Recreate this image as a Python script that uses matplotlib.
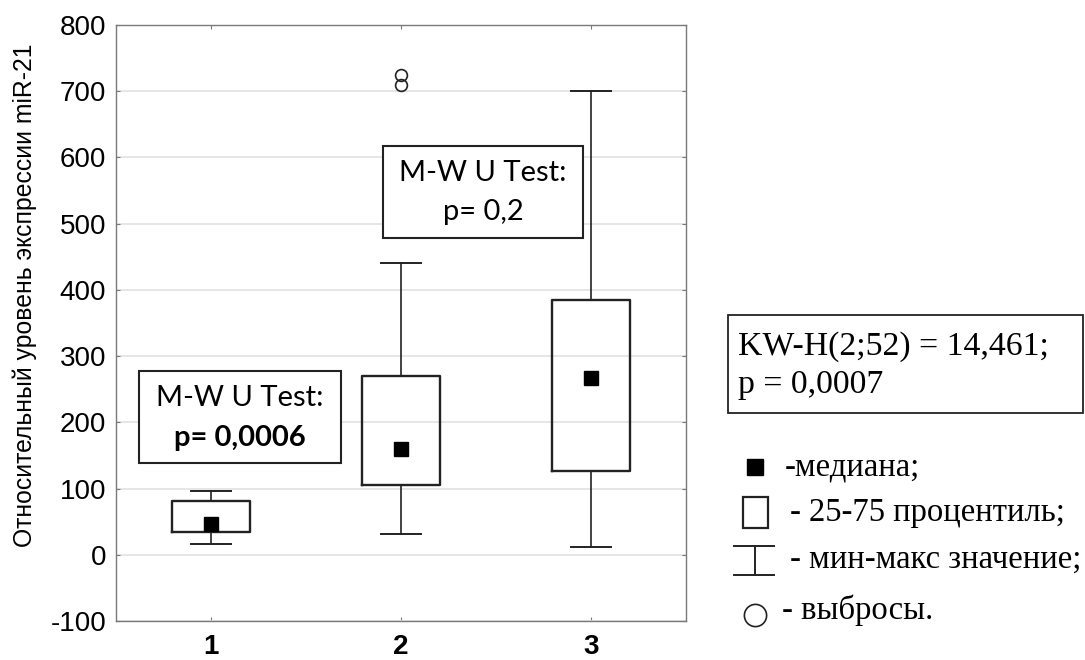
import matplotlib
matplotlib.use("Agg")
import matplotlib.pyplot as plt
from matplotlib.patches import Rectangle
from matplotlib.lines import Line2D

# ---- data ----
groups = ['1', '2', '3']
whisker_min = [17, 31, 11]
q1 = [34, 106, 127]
median = [47, 159, 267]
q3 = [81, 270, 385]
whisker_max = [96, 440, 700]
outliers = [[], [724, 709], []]

y_ticks = [-100, 0, 100, 200, 300, 400, 500, 600, 700, 800]
y_label = 'Относительный уровень экспрессии miR-21'
test1_lines = ['M-W U Test:', 'p= 0,0006']
test2_lines = ['M-W U Test:', 'p= 0,2']
kw_lines = ['KW-H(2;52) = 14,461;', 'p = 0,0007']
legend_labels = ['-медиана;', '- 25-75 процентиль;', '- мин-макс значение;', '- выбросы.']

W, H = 1085, 660
fig = plt.figure(figsize=(W / 100, H / 100), dpi=100)
ax = fig.add_axes([116 / W, (H - 621) / H, (686 - 116) / W, (621 - 25) / H])

positions = list(range(1, len(groups) + 1))
stats = []
for i in range(len(groups)):
    stats.append(dict(med=median[i], q1=q1[i], q3=q3[i],
                      whislo=whisker_min[i], whishi=whisker_max[i],
                      fliers=outliers[i]))

ink = '#222222'
ax.bxp(stats, positions=positions, widths=0.41, capwidths=0.21,
       boxprops=dict(color=ink, linewidth=1.7),
       whiskerprops=dict(color=ink, linewidth=1.2),
       capprops=dict(color=ink, linewidth=1.4),
       medianprops=dict(visible=False),
       flierprops=dict(marker='o', markersize=8.5, markerfacecolor='none',
                       markeredgecolor=ink, markeredgewidth=1.2),
       zorder=3)
ax.plot(positions, median, linestyle='none', marker='s', markersize=9.5,
        color='black', zorder=4)

ax.set_xlim(0.5, 3.5)
ax.set_ylim(-100, 800)
ax.set_yticks(y_ticks)
ax.set_yticklabels([str(v) for v in y_ticks], fontsize=20, family='Liberation Sans')
ax.set_xticks(positions)
ax.set_xticklabels(groups, fontsize=20, fontweight='bold', family='Liberation Sans')
ax.tick_params(direction='in', length=3, width=0.8, color='#777777',
               top=True, right=True, pad=7)
ax.tick_params(axis='x', pad=9)
ax.yaxis.grid(True, color='#e4e4e4', linewidth=1.3)
ax.set_axisbelow(True)
for s in ax.spines.values():
    s.set_color('#7a7a7a')
    s.set_linewidth(1.0)

ax.set_ylabel(y_label, fontsize=17.8, family='Liberation Sans')
ax.yaxis.set_label_coords((37 - 116) / 570, (621 - 295) / 596)

# annotation boxes (data coordinates)
box_font = 'Lato'
ax.add_patch(Rectangle((0.621, 139), 1.682 - 0.621, 278 - 139, fill=True,
                       facecolor='white', edgecolor=ink, linewidth=1.5, zorder=5))
ax.text((0.621 + 1.682) / 2, 236, test1_lines[0], ha='center', va='center',
        fontsize=21, family=box_font, zorder=6)
ax.text((0.621 + 1.682) / 2, 177, test1_lines[1], ha='center', va='center',
        fontsize=21, family=box_font, fontweight='bold', zorder=6)

ax.add_patch(Rectangle((1.904, 479), 2.959 - 1.904, 618 - 479, fill=True,
                       facecolor='white', edgecolor=ink, linewidth=1.5, zorder=5))
ax.text((1.904 + 2.959) / 2, 577, test2_lines[0], ha='center', va='center',
        fontsize=21, family=box_font, zorder=6)
ax.text((1.904 + 2.959) / 2, 517, test2_lines[1], ha='center', va='center',
        fontsize=21, family=box_font, zorder=6)

# ---- right-hand panel in figure pixel coordinates ----
def fx(px):
    return px / W

def fy(py):
    return (H - py) / H

serif = 'Liberation Serif'
fig.patches.append(Rectangle((fx(728), fy(413)), fx(1083) - fx(728), fy(315) - fy(413),
                             transform=fig.transFigure, fill=False,
                             edgecolor=ink, linewidth=1.3))
fig.text(fx(738), fy(347), kw_lines[0], ha='left', va='center', fontsize=24.3, family=serif)
fig.text(fx(738), fy(385), kw_lines[1], ha='left', va='center', fontsize=24.3, family=serif)

# legend symbols
fig.add_artist(Line2D([fx(755)], [fy(467)], marker='s', markersize=11.5,
                      color='black', linestyle='none', transform=fig.transFigure))
fig.patches.append(Rectangle((fx(743), fy(528)), fx(768) - fx(743), fy(497) - fy(528),
                             transform=fig.transFigure, fill=False,
                             edgecolor=ink, linewidth=1.6))
fig.add_artist(Line2D([fx(734), fx(774)], [fy(546), fy(546)], color=ink,
                      linewidth=1.4, transform=fig.transFigure))
fig.add_artist(Line2D([fx(734), fx(774)], [fy(575), fy(575)], color=ink,
                      linewidth=1.4, transform=fig.transFigure))
fig.add_artist(Line2D([fx(755), fx(755)], [fy(546), fy(575)], color=ink,
                      linewidth=1.4, transform=fig.transFigure))
fig.add_artist(Line2D([fx(755)], [fy(615)], marker='o', markersize=16,
                      markerfacecolor='none', markeredgecolor=ink,
                      markeredgewidth=1.2, linestyle='none', transform=fig.transFigure))

fig.text(fx(785), fy(467), legend_labels[0], ha='left', va='center', fontsize=23.5, family=serif)
fig.text(fx(790), fy(513), legend_labels[1], ha='left', va='center', fontsize=23.5, family=serif)
fig.text(fx(790), fy(560), legend_labels[2], ha='left', va='center', fontsize=23.5, family=serif)
fig.text(fx(782), fy(610), legend_labels[3], ha='left', va='center', fontsize=23.5, family=serif)

fig.savefig('out.png', dpi=100, facecolor='white')
